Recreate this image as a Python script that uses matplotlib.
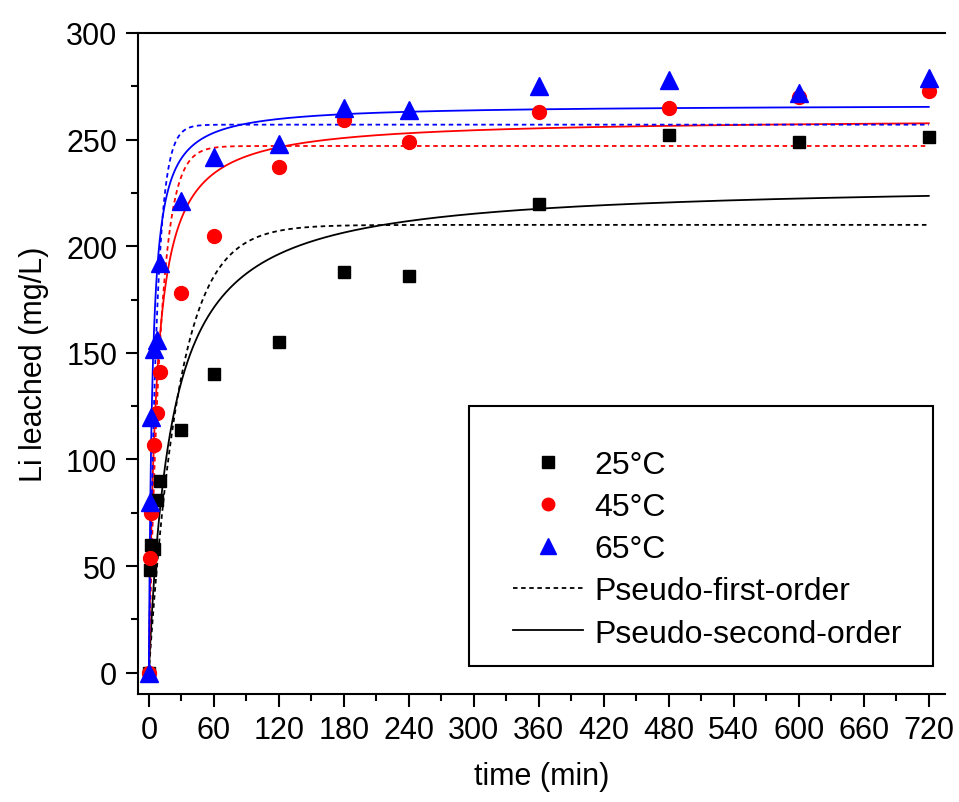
import numpy as np
import matplotlib
matplotlib.use('Agg')
import matplotlib.pyplot as plt
from matplotlib.patches import Rectangle
from matplotlib.lines import Line2D

plt.rcParams['font.family'] = ['Liberation Sans', 'DejaVu Sans']

# measured leaching data (mg/L)
time = [0, 1, 2, 5, 8, 10, 30, 60, 120, 180, 240, 360, 480, 600, 720]
li_25 = [0, 48, 60, 58, 81, 90, 114, 140, 155, 188, 186, 220, 252, 249, 251]
li_45 = [0, 54, 75, 107, 122, 141, 178, 205, 237, 259, 249, 263, 265, 270, 273]
li_65 = [0, 80, 120, 152, 156, 192, 221, 242, 248, 265, 264, 275, 278, 272, 279]

# fitted kinetic model parameters (25, 45, 65 C)
pfo_qe = [210, 247, 257]
pfo_k = [0.036, 0.095, 0.14]
pso_qe = [230, 260, 266.5]
pso_k = [0.000211, 0.00058, 0.00119]

colors = ['black', 'red', 'blue']
markers = ['s', 'o', '^']
msizes = [9, 10, 13]
labels = ['25°C', '45°C', '65°C']

fig = plt.figure(figsize=(9.59, 8.03), dpi=100)
ax = fig.add_axes([0.1439, 0.1345, 0.8415, 0.8232])

t = np.linspace(0, 720, 3000)
for i, c in enumerate(colors):
    first = pfo_qe[i] * (1 - np.exp(-pfo_k[i] * t))
    second = pso_qe[i] ** 2 * pso_k[i] * t / (1 + pso_qe[i] * pso_k[i] * t)
    ax.plot(t, first, color=c, lw=1.3, ls=(0, (2.5, 2)), zorder=2)
    ax.plot(t, second, color=c, lw=1.3, zorder=2)

for ys, c, m, s in zip([li_25, li_45, li_65], colors, markers, msizes):
    ax.plot(time, ys, ls='none', marker=m, ms=s, color=c, mec=c, zorder=3)

ax.set_xlim(-10, 735)
ax.set_ylim(-10, 300)
ax.set_xticks(range(0, 721, 60))
ax.set_xticks(range(30, 721, 60), minor=True)
ax.set_yticks(range(0, 301, 50))
ax.set_yticks(range(25, 300, 50), minor=True)
ax.tick_params(which='major', direction='out', length=9, width=1.5, labelsize=22, pad=6)
ax.tick_params(which='minor', direction='out', length=5, width=1.5)
for sp in ax.spines.values():
    sp.set_linewidth(1.5)
ax.spines['right'].set_visible(False)

ax.set_xlabel('time (min)', fontsize=22, labelpad=12)
ax.set_ylabel('Li leached (mg/L)', fontsize=22, labelpad=12)

# legend
handles = [Line2D([], [], ls='none', marker=m, ms=s * 0.9, color=c)
           for m, s, c in zip(markers, msizes, colors)]
handles += [Line2D([], [], color='black', lw=1.3, ls=(0, (2.5, 2))),
            Line2D([], [], color='black', lw=1.3)]
names = labels + ['Pseudo-first-order', 'Pseudo-second-order']
ax.legend(handles, names, loc='upper left', bbox_to_anchor=(0.4647, 0.369),
          frameon=False, fontsize=23, borderpad=0, borderaxespad=0,
          handlelength=2.2, handletextpad=0.35, labelspacing=0.38)
ax.add_patch(Rectangle((0.41, 0.042), 0.575, 0.394, transform=ax.transAxes,
                       fill=False, lw=1.5, color='black', zorder=5))

fig.savefig('out.png', dpi=100)
